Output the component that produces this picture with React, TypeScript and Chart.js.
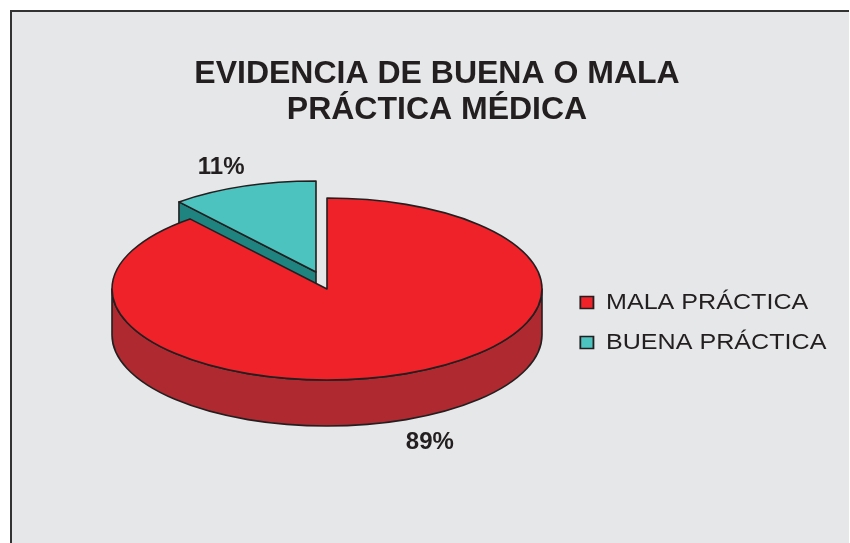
import React, { useEffect, useRef } from "react";
import { Chart, registerables } from "chart.js";

Chart.register(...registerables);

const categories = ["MALA PRÁCTICA", "BUENA PRÁCTICA"];
const values = [89, 11];
const topColors = ["#ef2229", "#4dc3bf"];
const wallColors = ["#ae2a30", "#1f8480"];
const titleLines = ["EVIDENCIA DE BUENA O MALA", "PRÁCTICA MÉDICA"];

const INK = "#231f20";
const PIE_CX = 327;
const PIE_CY = 289;
const PIE_R = 215;
const SQUASH = 91 / 215;
const DEPTH = 46;
const explode = [
  [0, 0],
  [-11, -17],
];
const labelNudge = [
  [30, 68],
  [-22, -19],
];
const LEGEND_FONT = 22;
const LEGEND_BOX = 11.5;
const LEGEND_STRETCH = 1.141;
const LEGEND_TEXT_X = 606;
const LEGEND_SHIFT_Y = 38;

const pie3d = {
  id: "pie3d",
  afterLayout(chart: any) {
    // The reference's legend lettering is horizontally stretched: redraw it through a scaled context.
    const legend = chart.legend;
    if (legend._stretched) return;
    legend._stretched = true;
    const draw = legend.draw;
    legend.draw = function (...args: any[]) {
      const ctx = chart.ctx;
      const hit = legend.legendHitBoxes[0];
      const tx = LEGEND_TEXT_X - LEGEND_STRETCH * (hit.left + LEGEND_BOX + LEGEND_FONT / 2);
      ctx.save();
      ctx.translate(tx, LEGEND_SHIFT_Y);
      ctx.scale(LEGEND_STRETCH, 1);
      draw.apply(legend, args);
      ctx.restore();
    };
  },
  beforeDatasetsDraw(chart: any) {
    const ctx = chart.ctx;
    const arcs = chart.getDatasetMeta(0).data;
    const order = [1, 0];
    for (const i of order) {
      const arc = arcs[i];
      const cx = PIE_CX + explode[i][0];
      const cy = PIE_CY + explode[i][1];
      const rx = PIE_R;
      const ry = PIE_R * SQUASH;
      ctx.save();
      ctx.lineWidth = 1.6;
      ctx.lineJoin = "round";
      ctx.strokeStyle = INK;
      ctx.fillStyle = wallColors[i];
      // Side walls
      const a0 = Math.max(arc.startAngle, 0);
      const a1 = Math.min(arc.endAngle, Math.PI);
      if (a1 > a0) {
        ctx.beginPath();
        ctx.ellipse(cx, cy, rx, ry, 0, a0, a1);
        ctx.ellipse(cx, cy + DEPTH, rx, ry, 0, a1, a0, true);
        ctx.closePath();
        ctx.fill();
        ctx.stroke();
      }
      if (arc.startAngle > Math.PI) {
        const ex = cx + rx * Math.cos(arc.startAngle);
        const ey = cy + ry * Math.sin(arc.startAngle);
        ctx.beginPath();
        ctx.moveTo(cx, cy);
        ctx.lineTo(ex, ey);
        ctx.lineTo(ex, ey + DEPTH);
        ctx.lineTo(cx, cy + DEPTH);
        ctx.closePath();
        ctx.fill();
        ctx.stroke();
      }
      // Top face drawn by the library's arc, flattened
      ctx.save();
      ctx.translate(cx, cy);
      ctx.scale(1, SQUASH);
      ctx.translate(-arc.x, -arc.y);
      arc.draw(ctx);
      ctx.restore();
      ctx.beginPath();
      ctx.moveTo(cx, cy);
      ctx.ellipse(cx, cy, rx, ry, 0, arc.startAngle, arc.endAngle);
      ctx.closePath();
      ctx.stroke();
      ctx.restore();
    }
    // Percentage labels
    ctx.save();
    ctx.font = "bold 24px 'Liberation Sans'";
    ctx.fillStyle = INK;
    ctx.textAlign = "center";
    ctx.textBaseline = "middle";
    arcs.forEach((arc: any, i: number) => {
      const mid = (arc.startAngle + arc.endAngle) / 2;
      const x = PIE_CX + explode[i][0] + PIE_R * Math.cos(mid) + labelNudge[i][0];
      const y = PIE_CY + explode[i][1] + PIE_R * SQUASH * Math.sin(mid) + labelNudge[i][1];
      ctx.fillText(values[i] + "%", x, y);
    });
    ctx.restore();
    return false;
  },
};

export default function App() {
  const ref = useRef<HTMLCanvasElement>(null);
  useEffect(() => {
    const chart = new Chart(ref.current as HTMLCanvasElement, {
      type: "pie",
      data: {
        labels: categories,
        datasets: [
          {
            data: values,
            backgroundColor: topColors,
            borderWidth: 0,
            radius: PIE_R,
          } as any,
        ],
      },
      options: {
        responsive: false,
        animation: false,
        layout: { padding: { left: 24, top: 56, bottom: 30 } },
        plugins: {
          tooltip: { enabled: false },
          title: {
            display: true,
            text: titleLines,
            color: INK,
            font: { family: "'Liberation Sans'", size: 32, weight: "bold", lineHeight: 1.125 },
            padding: { top: 0, bottom: 20 },
          },
          legend: {
            position: "right",
            labels: {
              color: INK,
              boxWidth: LEGEND_BOX,
              boxHeight: 12,
              padding: 18,
              font: { family: "'Liberation Sans'", size: LEGEND_FONT },
              generateLabels(c: any) {
                const items = (Chart as any).overrides.doughnut.plugins.legend.labels.generateLabels(c);
                return items.map((it: any) => ({ ...it, strokeStyle: INK, lineWidth: 1.6 }));
              },
            },
          },
        },
      } as any,
      plugins: [pie3d as any],
    });
    return () => chart.destroy();
  }, []);
  return (
    <div style={{ position: "fixed", left: 0, top: 0, width: 850, height: 543, background: "#fff", overflow: "hidden" }}>
      <div
        style={{
          position: "absolute",
          left: 10,
          top: 10,
          right: 1,
          bottom: 0,
          background: "#e6e7e9",
          borderLeft: "2px solid #333",
          borderTop: "2px solid #333",
        }}
      />
      <canvas ref={ref} width={850} height={543} style={{ position: "absolute", left: 0, top: 0 }} />
    </div>
  );
}
